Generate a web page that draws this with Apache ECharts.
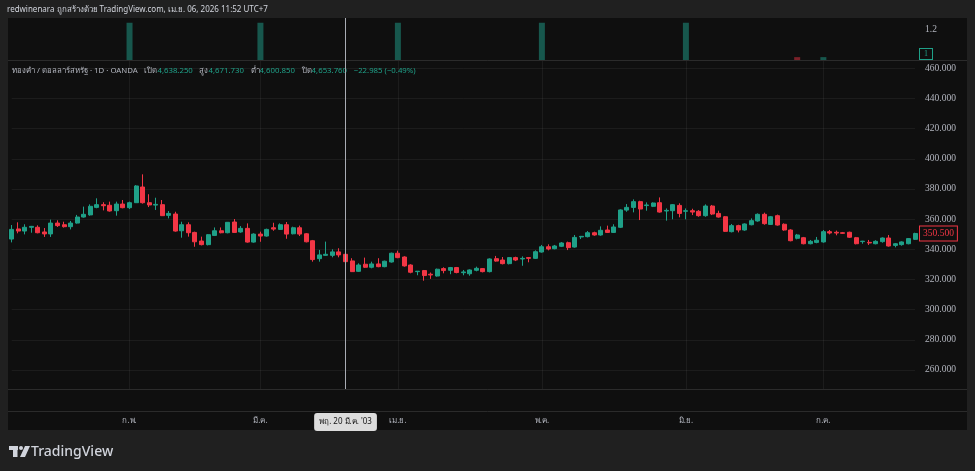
<!DOCTYPE html>
<html><head><meta charset="utf-8">
<script src="https://cdn.jsdelivr.net/npm/echarts@6/dist/echarts.min.js"></script>
<style>html,body{margin:0;padding:0;background:#202020;}#c{width:975px;height:471px;}</style>
</head><body><div id="c"></div>
<script>
// ---- data (XAU/USD daily, OANDA, Jan 8 – Jul 21, 2003) ----
const startDate = '2003-01-08';
const endDate = '2003-07-21';
const openP = [346.8,353.5,352.1,354.6,354.6,351.5,350.2,357.4,356.3,355.0,357.4,361.4,362.8,367.8,369.6,369.2,365.6,370.0,367.6,370.9,
381.3,370.9,369.3,369.6,362.5,363.4,352.3,356.3,351.2,345.5,343.1,349.2,352.3,351.0,358.1,351.5,353.9,344.8,350.1,348.8,
354.3,353.2,356.3,350.3,354.3,350.3,345.7,333.8,336.0,336.0,338.3,336.7,332.3,325.4,330.1,328.1,330.3,328.5,331.6,337.4,
334.9,329.6,325.2,325.9,323.5,322.3,327.2,326.1,327.9,324.5,323.8,326.1,327.2,325.2,333.8,332.9,330.5,334.5,333.6,334.5,
334.0,338.2,341.7,340.4,342.0,344.4,341.5,348.2,348.4,351.0,349.5,352.8,351.2,354.6,366.0,367.8,371.6,369.0,368.5,370.9,
365.4,365.6,369.1,365.2,365.6,365.2,362.3,368.7,363.8,361.6,351.7,355.7,352.8,356.3,358.8,363.2,356.5,362.3,356.6,352.8,
347.3,347.7,343.7,344.6,344.9,351.7,351.3,351.0,351.3,347.7,345.1,344.6,343.7,345.1,347.5,342.6,343.1,343.7,346.6];
const closeP = [353.2,352.1,354.6,355.2,351.0,350.2,357.4,355.7,355.0,357.4,361.4,363.2,368.5,369.6,368.9,365.4,370.0,367.6,370.9,382.0,
370.9,369.4,369.8,362.3,363.8,352.1,356.3,351.0,345.0,343.1,349.7,352.3,351.0,357.9,351.2,353.9,344.8,350.1,348.8,353.2,
353.4,356.3,350.1,354.3,350.1,345.0,333.2,336.3,336.7,338.3,336.3,331.8,325.2,329.6,328.1,330.3,328.5,332.1,337.4,334.5,
329.0,324.8,325.5,322.6,323.0,326.8,325.9,327.9,324.6,325.0,326.3,327.4,325.2,333.6,332.2,330.5,334.5,332.9,334.0,334.0,
338.4,341.7,340.2,342.2,344.2,341.1,347.9,348.6,351.0,349.5,352.6,351.2,354.8,366.1,367.8,371.6,366.7,369.4,370.7,364.7,
365.8,369.6,363.8,365.6,364.7,362.3,368.7,363.4,361.4,351.9,355.7,352.8,356.8,359.0,363.2,357.0,361.6,356.1,352.8,345.7,
349.5,343.7,345.3,346.0,351.7,350.8,350.8,350.6,348.0,343.7,345.4,344.2,345.3,347.5,342.2,343.7,344.9,347.1,350.5];
const lowP = [344.6,350.6,349.9,351.0,350.6,348.2,348.2,354.8,354.4,353.2,357.0,361.0,362.3,367.2,365.8,365.0,362.3,367.2,366.7,370.7,
370.3,368.0,366.1,362.1,360.5,351.7,347.7,348.4,341.7,342.6,342.6,348.8,350.6,350.6,351.0,351.0,344.4,344.4,345.0,348.4,
352.3,352.8,347.0,349.9,348.8,344.6,331.8,331.8,335.8,334.7,334.7,331.4,325.0,325.0,327.6,327.4,328.1,328.1,331.2,334.1,
328.5,324.1,322.8,319.2,320.4,321.9,324.1,323.5,324.1,322.8,322.5,325.4,324.7,324.7,331.8,330.0,330.0,332.2,329.1,331.4,
333.6,337.8,339.3,340.0,341.5,339.5,341.1,346.8,347.9,349.0,349.0,350.8,350.8,354.1,364.9,364.5,359.4,365.6,368.0,364.3,
359.0,359.9,361.2,359.9,362.7,361.6,361.6,362.7,361.0,351.5,351.2,351.2,352.3,355.9,358.3,356.3,356.1,355.7,352.3,345.3,
346.6,343.3,343.3,344.0,344.4,349.9,349.3,350.2,347.5,343.3,343.7,342.9,343.3,344.4,341.8,341.3,342.4,343.3,346.2];
const highP = [356.1,357.9,356.6,355.5,355.9,354.1,359.7,359.2,358.3,358.8,362.8,368.3,369.8,373.8,371.2,371.6,371.6,372.7,371.6,382.6,
389.7,376.5,374.2,372.7,365.4,364.9,358.3,357.9,351.7,348.4,350.1,354.5,354.5,358.1,360.1,355.4,357.2,350.6,351.7,353.7,
357.6,357.2,358.1,355.0,355.7,350.8,346.2,339.6,345.1,340.0,340.7,337.4,334.1,330.7,334.5,331.8,334.1,332.5,337.8,339.1,
335.4,330.1,325.6,326.3,324.6,327.2,328.1,328.3,328.3,326.3,326.7,328.5,327.6,334.0,335.6,334.9,334.9,335.1,335.3,334.9,
339.3,342.9,343.3,342.9,344.8,345.1,349.5,348.8,352.1,351.7,355.2,355.7,356.6,366.5,370.0,373.1,372.2,371.1,371.1,374.4,
367.1,370.0,370.5,367.1,366.9,366.0,369.8,369.4,365.6,362.1,356.8,356.3,357.2,360.5,363.8,364.3,362.1,363.0,357.2,353.3,
350.2,348.2,346.2,348.2,352.8,352.8,352.4,351.5,351.7,348.2,345.6,346.2,346.0,347.9,349.5,344.2,345.3,347.5,351.0];
// upper indicator pane: [index, value, direction]
const indicatorPoints = [[18,1.25,'up'],[38,1.25,'up'],[59,1.25,'up'],[81,1.25,'up'],[103,1.25,'up'],[120,0.975,'down'],[124,0.975,'up']];
const indicatorLast = 1;
const monthNames = ['ม.ค.','ก.พ.','มี.ค.','เม.ย.','พ.ค.','มิ.ย.','ก.ค.','ส.ค.','ก.ย.','ต.ค.','พ.ย.','ธ.ค.'];
const dayNames = ['อา.','จ.','อ.','พ.','พฤ.','ศ.','ส.'];
const crosshairDate = '2003-03-20';
const headerText = 'redwinenara ถูกสร้างด้วย TradingView.com, เม.ย. 06, 2026 11:52 UTC+7';
const legendParts = {name:'ทองคำ / ดอลลาร์สหรัฐ · 1D · OANDA', o:'4,638.250', h:'4,671.730', l:'4,600.850', c:'4,653.760', chg:'−22.985 (−0.49%)'};

// ---- calendar (weekdays) ----
const dates = [];
for (let d = new Date(startDate + 'T00:00:00Z'); d <= new Date(endDate + 'T00:00:00Z'); d.setUTCDate(d.getUTCDate() + 1)) {
  const wd = d.getUTCDay();
  if (wd !== 0 && wd !== 6) dates.push(d.toISOString().slice(0, 10));
}
const monthStart = new Set();
dates.forEach((s, i) => { if (i > 0 && s.slice(5, 7) !== dates[i - 1].slice(5, 7)) monthStart.add(i); });
const crossIdx = dates.indexOf(crosshairDate);
const candles = dates.map((_, i) => [openP[i], closeP[i], lowP[i], highP[i]]);
const indData = dates.map(() => null);
indicatorPoints.forEach(p => { indData[p[0]] = { value: p[1], itemStyle: { color: p[2] === 'up' ? '#17574d' : '#7a2129' } }; });

const UP = '#1fa088', DOWN = '#f23645', TXT = '#b2b5be', GRID = 'rgba(255,255,255,0.055)';
const FONT = "'Noto Sans', 'DejaVu Sans', sans-serif";
const AXF = "'Liberation Serif', serif";
function fmtCross(v) {
  const d = new Date(v + 'T00:00:00Z');
  return dayNames[d.getUTCDay()] + ' ' + d.getUTCDate() + ' ' + monthNames[d.getUTCMonth()] + " '" + String(d.getUTCFullYear()).slice(2);
}
const L = 11.7, R = 60;
const NOLINE = 'rgba(0,0,0,0)';

const chart = echarts.init(document.getElementById('c'), null, { renderer: 'canvas' });
chart.setOption({
  backgroundColor: '#202020',
  animation: false,
  textStyle: { fontFamily: FONT },
  graphic: [
    { type: 'rect', z: -10, shape: { x: 8, y: 18, width: 959, height: 412 }, style: { fill: '#0f0f0f' } },
    { type: 'line', z: 10, shape: { x1: 8, y1: 60.5, x2: 967, y2: 60.5 }, style: { stroke: '#2b2b2b', lineWidth: 1 } },
    { type: 'line', z: 10, shape: { x1: 8, y1: 389.5, x2: 967, y2: 389.5 }, style: { stroke: '#2b2b2b', lineWidth: 1 } },
    { type: 'line', z: 10, shape: { x1: 8, y1: 411.5, x2: 967, y2: 411.5 }, style: { stroke: '#2b2b2b', lineWidth: 1 } },
    { type: 'text', style: { text: headerText, x: 7, y: 10, verticalAlign: 'middle', fill: '#d1d4dc', font: '8px ' + FONT } },
    { type: 'text', z: 20, style: {
        x: 12, y: 71, verticalAlign: 'middle',
        text: '{g|' + legendParts.name + '}  {g|เปิด}{v|' + legendParts.o + '}  {g|สูง}{v|' + legendParts.h + '}  {g|ต่ำ}{v|' + legendParts.l + '}  {g|ปิด}{v|' + legendParts.c + '}  {v|' + legendParts.chg + '}',
        rich: { g: { fill: TXT, font: '7.8px ' + FONT }, v: { fill: UP, font: '7.8px ' + FONT } }
    } },
    { type: 'group', left: 9, top: 445, children: [
      { type: 'rect', shape: { x: 0, y: 0, width: 9, height: 4 }, style: { fill: '#d1d4dc' } },
      { type: 'rect', shape: { x: 4, y: 0, width: 4.5, height: 11 }, style: { fill: '#d1d4dc' } },
      { type: 'circle', shape: { cx: 12, cy: 2, r: 2 }, style: { fill: '#d1d4dc' } },
      { type: 'polygon', shape: { points: [[16, 0], [21, 0], [16, 11], [11, 11]] }, style: { fill: '#d1d4dc' } },
      { type: 'text', style: { text: 'TradingView', x: 22, y: 6, verticalAlign: 'middle', fill: '#d1d4dc', font: '500 14px ' + FONT } }
    ] }
  ],
  grid: [
    { left: L, right: R, top: 18, height: 42 },
    { left: L, right: R, top: 60, height: 329 }
  ],
  xAxis: [
    { type: 'category', gridIndex: 0, data: dates, boundaryGap: false,
      axisLine: { show: false }, axisTick: { show: false }, axisLabel: { show: false }, splitLine: { show: false },
      axisPointer: { show: true, type: 'line', value: crossIdx, status: 'show', triggerTooltip: false,
        lineStyle: { color: '#a9acb4', width: 1, type: 'solid' }, label: { show: false } } },
    { type: 'category', gridIndex: 1, data: dates, boundaryGap: false,
      axisLine: { show: false }, axisTick: { show: false },
      axisLabel: { interval: (i) => monthStart.has(i), color: TXT, fontSize: 8, margin: 28, fontFamily: FONT,
        formatter: (v) => monthNames[parseInt(v.slice(5, 7), 10) - 1] },
      splitLine: { show: true, interval: (i) => monthStart.has(i), lineStyle: { color: GRID } },
      axisPointer: { show: true, type: 'line', value: crossIdx, status: 'show', triggerTooltip: false,
        lineStyle: { color: '#a9acb4', width: 1, type: 'solid' },
        label: { show: true, formatter: (p) => fmtCross(p.value), backgroundColor: '#dcdcdc', color: '#131313',
          fontSize: 8, padding: [5, 5], margin: 24, fontFamily: FONT } } }
  ],
  yAxis: [
    { type: 'value', gridIndex: 0, position: 'right', min: 0.952, max: 1.288,
      axisLine: { show: false }, axisTick: { show: false }, splitLine: { show: false },
      axisLabel: { customValues: [1.2], color: TXT, fontSize: 9.5, margin: 10, fontFamily: AXF, formatter: (v) => String(v) } },
    { type: 'value', gridIndex: 1, position: 'right', min: 247.4, max: 465.5, splitNumber: 11,
      axisLine: { show: false }, axisTick: { show: false },
      splitLine: { show: true, lineStyle: { color: GRID } },
      axisLabel: { color: TXT, fontSize: 9.5, margin: 10, fontFamily: AXF, showMinLabel: false, showMaxLabel: false,
        formatter: (v) => v.toFixed(3) } }
  ],
  series: [
    { type: 'bar', xAxisIndex: 0, yAxisIndex: 0, data: indData, barWidth: 6, clip: true },
    { type: 'line', xAxisIndex: 0, yAxisIndex: 0, data: [], clip: false, silent: true,
      markLine: { silent: true, symbol: 'none', data: [{ yAxis: indicatorLast }], lineStyle: { color: NOLINE, width: 0 },
        label: { position: 'end', distance: 5, formatter: () => String(indicatorLast), color: UP, backgroundColor: '#0f0f0f',
          borderColor: UP, borderWidth: 1, padding: [1, 4], fontSize: 8, fontFamily: AXF } } },
    { type: 'candlestick', xAxisIndex: 1, yAxisIndex: 1, data: candles, barWidth: 4.5, clip: false,
      itemStyle: { color: UP, color0: DOWN, borderColor: UP, borderColor0: DOWN, borderWidth: 1 },
      markLine: { silent: true, symbol: 'none', data: [{ yAxis: closeP[closeP.length - 1] }], lineStyle: { color: NOLINE, width: 0 },
        label: { position: 'end', distance: 5, formatter: (p) => p.value.toFixed(3), color: DOWN, backgroundColor: '#0f0f0f',
          borderColor: DOWN, borderWidth: 1, padding: [2, 3], fontSize: 9.5, fontFamily: AXF } } }
  ]
});
</script></body></html>
